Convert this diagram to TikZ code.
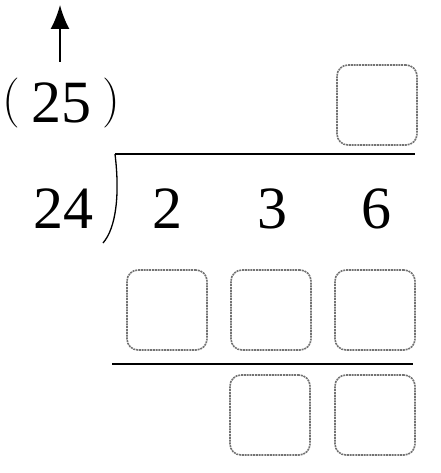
\documentclass[tikz,border=0pt]{standalone}
\usepackage{fontspec}
\setmainfont{Liberation Serif}
\newfontfamily\parfont{Latin Modern Roman}
\usetikzlibrary{arrows.meta}
\newcommand{\boxgray}{black!55}
\newcommand{\digsize}{\fontsize{60}{70}\selectfont}
\newcommand{\parsize}{\parfont\fontsize{50}{56}\selectfont}
\tikzset{every path/.style={line width=1.3pt}}
\tikzset{digit/.style={inner sep=0pt, anchor=base, font=\digsize},
  blank/.style={draw=\boxgray, dash pattern=on 2pt off 0.8pt, rounded corners=11pt, minimum size=80pt, inner sep=0pt, line width=1.6pt},
  pointer/.style={-{Latex[length=24pt,width=19pt]}, line width=1.8pt}}

\begin{document}
\begin{tikzpicture}[x=1pt,y=-1pt]
\useasboundingbox (0,0) rectangle (440,473);
\node[digit] (quot) at (61,123) {\raisebox{7pt}{\parsize(}\hspace{11pt}25\hspace{11pt}\raisebox{7pt}{\parsize)}};
\coordinate (tip) at (60,5);
\draw[pointer, shorten <=16pt] (quot.north -| tip) -- (tip);
\node[digit] (dvsr) at (63,228) {24};
\node[digit] (d1) at (167,228) {2};
\node[digit] (d2) at (272,228) {3};
\node[digit] (d3) at (376,228) {6};
\draw (115,154) -- (415,154);
\draw (115,154) .. controls (120,195) and (116,228) .. (103,243);
\node[blank] (q3) at (377,105) {};
\node[blank] (p1) at (167,310) {};
\node[blank] (p2) at (271,310) {};
\node[blank] (p3) at (375,310) {};
\draw[line width=2.5pt] (112,364) -- (413,364);
\node[blank] (r2) at (270,415) {};
\node[blank] (r3) at (375,415) {};
\end{tikzpicture}
\end{document}
